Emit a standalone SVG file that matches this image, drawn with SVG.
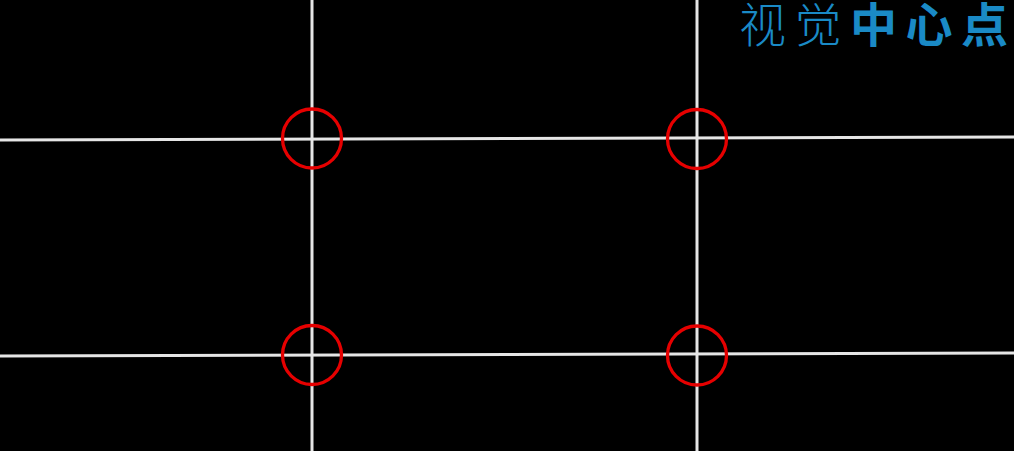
<svg xmlns="http://www.w3.org/2000/svg" width="1014" height="451" viewBox="0 0 1014 451">
<style>
.grid{stroke:#e6e6e6;stroke-width:3;fill:none}
.mark{stroke:#e60000;stroke-width:3.3;fill:none}
.t{font-family:"Noto Sans CJK SC","Noto Sans",sans-serif;font-size:47px;fill:#1a8ac6;letter-spacing:8.5px}
</style>
<rect width="1014" height="451" fill="#000"/>
<g id="connectors">
<line class="grid" x1="0" y1="140" x2="1014" y2="137"/>
<line class="grid" x1="0" y1="356" x2="1014" y2="353"/>
<line class="grid" x1="312" y1="0" x2="312" y2="451"/>
<line class="grid" x1="697" y1="0" x2="697" y2="451"/>
</g>
<g id="c1"><circle class="mark" cx="312" cy="138.5" r="29.5"/></g>
<g id="c2"><circle class="mark" cx="697" cy="139" r="29.5"/></g>
<g id="c3"><circle class="mark" cx="312" cy="355" r="29.5"/></g>
<g id="c4"><circle class="mark" cx="697" cy="355.5" r="29.5"/></g>
<g id="title"><text class="t" x="739" y="42"><tspan font-weight="300">视觉</tspan><tspan font-weight="700">中心点</tspan></text></g>
</svg>
